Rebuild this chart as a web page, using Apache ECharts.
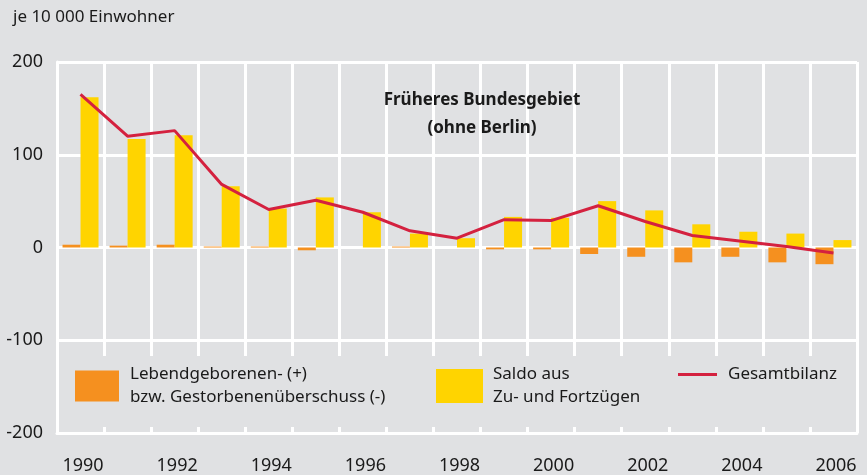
<!DOCTYPE html>
<html>
<head>
<meta charset="utf-8">
<script src="https://cdn.jsdelivr.net/npm/echarts@6/dist/echarts.min.js"></script>
<style>
    html, body { margin: 0; padding: 0; background: #e0e1e3; }
    #chart { width: 867px; height: 475px; }
</style>
</head>
<body>
<div id="chart"></div>
<script>
    // Jahre
    var years = ['1990', '1991', '1992', '1993', '1994', '1995', '1996', '1997', '1998',
                 '1999', '2000', '2001', '2002', '2003', '2004', '2005', '2006'];
    // Lebendgeborenen- bzw. Gestorbenenueberschuss
    var natural = [3, 2, 3, 1, 1, -3, 0, 1, 0, -2, -2, -7, -10, -16, -10, -16, -18];
    // Saldo aus Zu- und Fortzuegen
    var migration = [162, 117, 121, 66, 42, 54, 38, 15, 10, 33, 32, 50, 40, 25, 17, 15, 8];
    // Gesamtbilanz
    var total = [165, 120, 126, 68, 41, 51, 38, 18, 10, 30, 29, 45, 28, 13, 7, 1, -6];
    var yTicks = [-200, -100, 0, 100, 200];

    var font = '"Noto Sans", "Open Sans", sans-serif';
    var bg = '#e0e1e3';

    var chart = echarts.init(document.getElementById('chart'));
    chart.setOption({
        backgroundColor: bg,
        animation: false,
        textStyle: { fontFamily: font },
        grid: { left: 57, right: 10, top: 62, bottom: 39 },
        legend: [
            {
                data: ['Lebendgeborenen- (+)\nbzw. Gestorbenenüberschuss (-)'],
                left: 75, top: 363, padding: 0,
                icon: 'rect', itemWidth: 44, itemHeight: 31,
                textStyle: { fontSize: 17, color: '#1a1a1a', lineHeight: 23, padding: [0, 0, 0, 6] }
            },
            {
                data: ['Saldo aus\nZu- und Fortzügen'],
                left: 436, top: 363, padding: 0,
                icon: 'rect', itemWidth: 47, itemHeight: 34,
                textStyle: { fontSize: 17, color: '#1a1a1a', lineHeight: 23, padding: [0, 0, 0, 5] }
            },
            {
                data: ['Gesamtbilanz'],
                left: 678, top: 363, padding: 0,
                icon: 'rect', itemWidth: 39, itemHeight: 3,
                textStyle: { fontSize: 17, color: '#1a1a1a', lineHeight: 23, padding: [0, 0, 0, 6] }
            }
        ],
        graphic: [
            {
                type: 'rect', z: 1, silent: true,
                shape: { x: 60, y: 356, width: 794, height: 71 },
                style: { fill: bg }
            },
            {
                type: 'text', x: 13, y: 17, z: 5,
                style: { text: 'je 10 000 Einwohner', font: '17px ' + font, fill: '#1a1a1a', textVerticalAlign: 'middle' }
            },
            {
                type: 'text', x: 482, y: 100, z: 5,
                style: { text: 'Früheres Bundesgebiet', font: 'bold 17px ' + font, fill: '#1a1a1a', textAlign: 'center', textVerticalAlign: 'middle' }
            },
            {
                type: 'text', x: 482, y: 128, z: 5,
                style: { text: '(ohne Berlin)', font: 'bold 17px ' + font, fill: '#1a1a1a', textAlign: 'center', textVerticalAlign: 'middle' }
            }
        ],
        xAxis: {
            type: 'category',
            data: years,
            axisLine: { onZero: false, lineStyle: { color: '#fff', width: 3 } },
            axisTick: { show: false },
            axisLabel: { interval: 1, margin: 24, fontSize: 18, color: '#1a1a1a', fontFamily: font, padding: [0, 0, 0, 5] },
            splitLine: { show: true, interval: 0, lineStyle: { color: '#fff', width: 3 } }
        },
        yAxis: {
            type: 'value',
            min: yTicks[0], max: yTicks[yTicks.length - 1], interval: 100,
            axisLine: { show: true, lineStyle: { color: '#fff', width: 3 } },
            axisTick: { show: false },
            axisLabel: { margin: 14, fontSize: 18, color: '#1a1a1a', fontFamily: font },
            splitLine: { lineStyle: { color: '#fff', width: 3 } }
        },
        series: [
            {
                name: 'Lebendgeborenen- (+)\nbzw. Gestorbenenüberschuss (-)',
                type: 'bar', data: natural,
                barWidth: 18, barGap: '0%',
                itemStyle: { color: '#f5901f' }
            },
            {
                name: 'Saldo aus\nZu- und Fortzügen',
                type: 'bar', data: migration,
                barWidth: 18, barGap: '0%',
                itemStyle: { color: '#ffd400' }
            },
            {
                name: 'Gesamtbilanz',
                type: 'line', data: total,
                symbol: 'none', z: 3,
                itemStyle: { color: '#d4213f' },
                lineStyle: { color: '#d4213f', width: 3 }
            }
        ]
    });
</script>
</body>
</html>
